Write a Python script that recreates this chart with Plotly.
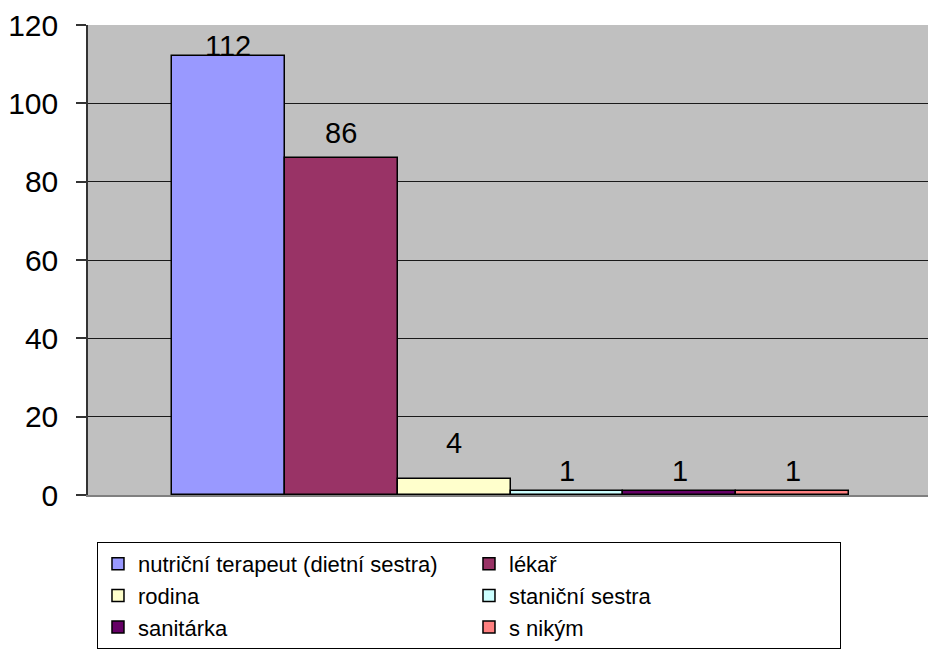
import plotly.graph_objects as go

# Respondent answers: who the patient consulted
names = [
    "nutriční terapeut (dietní sestra)",
    "lékař",
    "rodina",
    "staniční sestra",
    "sanitárka",
    "s nikým",
]
counts = [112, 86, 4, 1, 1, 1]
colors = ["#9999FF", "#993366", "#FFFFCC", "#CCFFFF", "#660066", "#FF8080"]
label_shift = [10, 25, 36, 20, 20, 20]
y_ticks = [0, 20, 40, 60, 80, 100, 120]

FONT = "Liberation Sans, Arial, sans-serif"

fig = go.Figure()
for name, value, color in zip(names, counts, colors):
    fig.add_trace(go.Bar(
        x=[name], y=[value], name=name, width=1,
        marker=dict(color=color, line=dict(color="black", width=1.5)),
    ))

for name, value, shift in zip(names, counts, label_shift):
    fig.add_annotation(
        x=name, y=value, text=str(value), showarrow=False,
        yanchor="middle", yshift=shift,
        font=dict(family=FONT, size=29, color="black"),
    )

fig.update_layout(
    width=928, height=649,
    margin=dict(l=88, r=0, t=25, b=154),
    paper_bgcolor="white",
    plot_bgcolor="#C0C0C0",
    barmode="overlay",
    bargap=0,
    showlegend=True,
    font=dict(family=FONT, color="black"),
    legend=dict(
        orientation="h",
        x=0.0107, xanchor="left",
        y=-0.1, yanchor="top",
        entrywidth=326, entrywidthmode="pixels",
        bordercolor="black", borderwidth=1,
        bgcolor="white",
        font=dict(family=FONT, size=22, color="black"),
        itemclick=False, itemdoubleclick=False,
    ),
)

fig.update_xaxes(
    type="category",
    categoryorder="array", categoryarray=names,
    range=[-1.245, 6.2],
    showticklabels=False, ticks="",
    showgrid=False, zeroline=False,
    showline=True, linecolor="#808080", linewidth=2,
)

fig.update_yaxes(
    range=[0, 120],
    tickvals=y_ticks,
    ticks="outside", ticklen=10, tickcolor="#333333", tickwidth=1.5,
    ticklabelstandoff=12,
    tickfont=dict(family=FONT, size=30, color="black"),
    showgrid=True, gridcolor="#1a1a1a", gridwidth=1,
    zeroline=False,
    showline=True, linecolor="#333333", linewidth=1.5,
)

fig.write_html("out.html")
